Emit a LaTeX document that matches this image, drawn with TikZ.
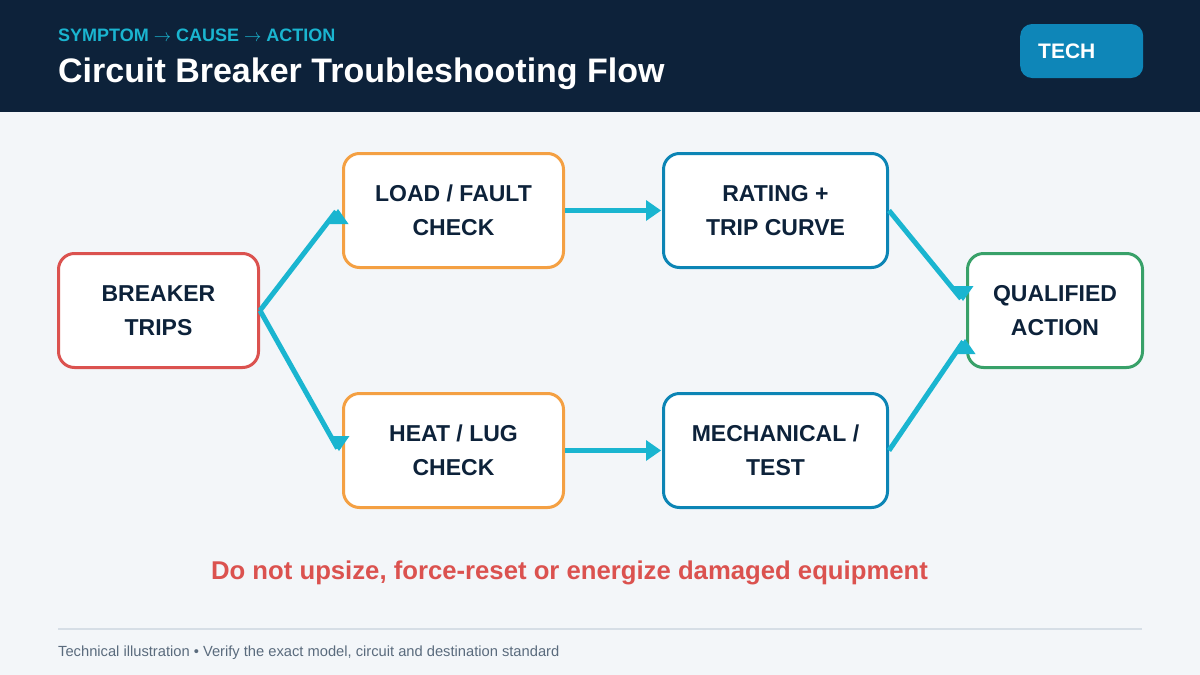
\documentclass[tikz,border=0pt]{standalone}
\usepackage{fontspec}
\setmainfont{Liberation Sans}
\usetikzlibrary{calc}
\definecolor{navy}{HTML}{0D223A}
\definecolor{pagebg}{HTML}{F3F6F9}
\definecolor{cyanc}{HTML}{1AB5D0}
\definecolor{badgec}{HTML}{0E86B8}
\definecolor{redc}{HTML}{DB524F}
\definecolor{orangec}{HTML}{F4A043}
\definecolor{bluec}{HTML}{0C85B5}
\definecolor{greenc}{HTML}{38A169}
\definecolor{rulec}{HTML}{D6DEE6}
\definecolor{footc}{HTML}{5A6B7D}
\begin{document}
\begin{tikzpicture}[x=1pt,y=-1pt,
  box/.style={draw, line width=3pt, fill=white, rounded corners=16pt, align=center,
    text=navy, font=\fontsize{23}{34}\selectfont\bfseries, minimum height=114pt, inner sep=0pt},
  conn/.style={draw=cyanc, line width=5pt, shorten >=3pt},
  triup/.pic={\fill[cyanc] (0,0) -- (-10.5,15) -- (10.5,15) -- cycle;},
  tridown/.pic={\fill[cyanc] (0,0) -- (-10.5,-15) -- (10.5,-15) -- cycle;},
  triright/.pic={\fill[cyanc] (0,0) -- (-15,-10.5) -- (-15,10.5) -- cycle;},
]
\useasboundingbox (0,0) rectangle (1200,675);
\fill[pagebg] (0,0) rectangle (1200,675);
\fill[navy] (0,0) rectangle (1200,112);

\node[anchor=base west, inner sep=0pt, text=cyanc, font=\fontsize{18}{20}\selectfont\bfseries] (sub) at (58,41) {SYMPTOM $\rightarrow$ CAUSE $\rightarrow$ ACTION};
\node[anchor=base west, inner sep=0pt, text=white, font=\fontsize{34}{36}\selectfont\bfseries] (title) at (58,82) {Circuit Breaker Troubleshooting Flow};
\node[anchor=west, fill=badgec, rounded corners=12pt, text=white, font=\fontsize{21}{24}\selectfont\bfseries,
  text width=87pt, align=left, inner xsep=18pt, inner ysep=0pt, minimum height=54pt] (badge) at (1020,51) {TECH};

\node[box, draw=redc, minimum width=200pt] (brk) at (158.5,310.5) {BREAKER\\TRIPS};
\node[box, draw=orangec, minimum width=220pt] (lf) at (453.5,210.5) {LOAD / FAULT\\CHECK};
\node[box, draw=orangec, minimum width=220pt] (hl) at (453.5,450.5) {HEAT / LUG\\CHECK};
\node[box, draw=bluec, minimum width=224pt] (rt) at (775.5,210.5) {RATING +\\TRIP CURVE};
\node[box, draw=bluec, minimum width=224pt] (mt) at (775.5,450.5) {MECHANICAL /\\TEST};
\node[box, draw=greenc, minimum width=175pt] (qa) at (1055,310.5) {QUALIFIED\\ACTION};

\coordinate (e1) at ($(lf.west)+(-4,-1.5)$);
\coordinate (e2) at ($(hl.west)+(-3,0.5)$);
\coordinate (e3) at ($(rt.west)+(-1,0)$);
\coordinate (e4) at ($(mt.west)+(-1,0)$);
\coordinate (e5) at ($(qa.west)+(-3,-9.5)$);
\coordinate (e6) at ($(qa.west)+(-1,28.5)$);

\draw[conn] (brk.east) -- (e1);
\pic at (e1) {triup};
\draw[conn] (brk.east) -- (e2);
\pic at (e2) {tridown};
\draw[conn] (lf.east) -- (e3);
\pic at (e3) {triright};
\draw[conn] (hl.east) -- (e4);
\pic at (e4) {triright};
\draw[conn] (rt.east) -- (e5);
\pic at (e5) {tridown};
\draw[conn] (mt.east) -- (e6);
\pic at (e6) {triup};

\node[anchor=base, inner sep=0pt, text=redc, font=\fontsize{25.7}{28}\selectfont\bfseries] (warn) at (569.5,579) {Do not upsize, force-reset or energize damaged equipment};
\draw[rulec, line width=2pt] (58,629) -- (1142,629);
\node[anchor=base west, inner sep=0pt, text=footc, font=\fontsize{14.7}{16}\selectfont] (foot) at (58,656) {Technical illustration • Verify the exact model, circuit and destination standard};
\end{tikzpicture}
\end{document}
